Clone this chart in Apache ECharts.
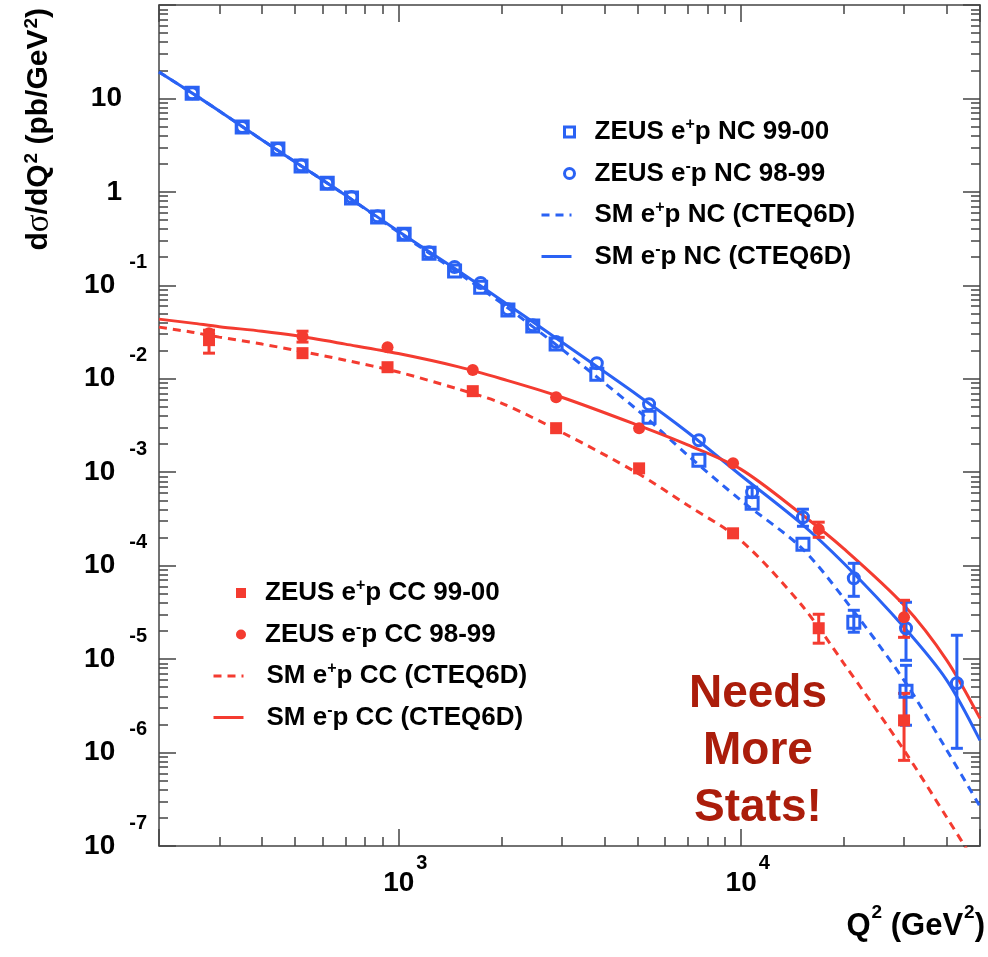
<!DOCTYPE html>
<html>
<head>
<meta charset="utf-8">
<script src="https://cdn.jsdelivr.net/npm/echarts@6/dist/echarts.min.js"></script>
<style>
  html, body { margin: 0; padding: 0; background: #fff; }
  #chart { width: 988px; height: 957px; }
</style>
</head>
<body>
<div id="chart"></div>
<script>
// ---- Neutral-current measurements (Q^2 in GeV^2, dsigma/dQ^2 in pb/GeV^2) ----
const ncQ2 = [250, 350, 445, 520, 620, 730, 870, 1040, 1230, 1460, 1740, 2090, 2470, 2890, 3800, 5400, 7550, 10800, 15200, 21400, 30400];
const ncEpPlus = [11.4, 4.94, 2.87, 1.89, 1.24, 0.858, 0.537, 0.353, 0.221, 0.142, 0.0956, 0.0543, 0.0366, 0.0235, 0.0112, 0.00388, 0.00134, 4.66e-4, 1.70e-4, 2.48e-5, 4.52e-6];
const ncQ2Minus = [250, 350, 445, 520, 620, 730, 870, 1040, 1230, 1460, 1740, 2090, 2470, 2890, 3800, 5400, 7550, 10800, 15200, 21400, 30400, 42800];
const ncEpMinus = [11.4, 4.94, 2.87, 1.93, 1.24, 0.88, 0.55, 0.353, 0.226, 0.157, 0.106, 0.0556, 0.0375, 0.0247, 0.0147, 0.00535, 0.00220, 6.11e-4, 3.30e-4, 7.33e-5, 2.14e-5, 5.51e-6];
// [Q2, low, high]
const ncEpPlusErr = [[21400, 1.94e-5, 3.33e-5], [30400, 1.96e-6, 8.58e-6]];
const ncEpMinusErr = [[10800, 5.40e-4, 6.91e-4], [15200, 2.64e-4, 4.02e-4], [21400, 4.70e-5, 1.06e-4], [30400, 9.71e-6, 4.06e-5], [42800, 1.11e-6, 1.80e-5]];

// ---- Charged-current measurements ----
const ccQ2 = [280, 525, 930, 1650, 2890, 5050, 9500, 16900, 30000];
const ccEpPlus = [0.0259, 0.0188, 0.0133, 0.00737, 0.00296, 0.00110, 2.22e-4, 2.14e-5, 2.21e-6];
const ccEpMinus = [0.0308, 0.0286, 0.0218, 0.0124, 0.00635, 0.00296, 0.00125, 2.45e-4, 2.80e-5];
const ccEpPlusErr = [[280, 0.0188, 0.0331], [16900, 1.48e-5, 3.02e-5], [30000, 8.25e-7, 4.30e-6]];
const ccEpMinusErr = [[525, 0.0247, 0.0323], [16900, 2.01e-4, 2.92e-4], [30000, 1.71e-5, 4.26e-5]];

// ---- Standard Model predictions (CTEQ6D) ----
const smQ2 = [200, 250, 300, 400, 500, 700, 1000, 1500, 2000, 3000, 5000, 7000, 10000, 15000, 20000, 30000, 40000, 50000];
const smNcMinus = [19.2, 11.4, 7.33, 3.59, 2.09, 0.924, 0.380, 0.142, 0.0694, 0.0247, 0.00667, 0.00268, 9.29e-4, 2.84e-4, 1.06e-4, 2.19e-5, 5.93e-6, 1.35e-6];
const smNcPlus = [19.2, 11.4, 7.33, 3.59, 2.09, 0.924, 0.371, 0.135, 0.0645, 0.0208, 0.00461, 0.00152, 5.02e-4, 1.57e-4, 4.48e-5, 5.93e-6, 1.06e-6, 2.65e-7];
const smCcMinus = [0.0435, 0.0394, 0.0361, 0.0323, 0.0290, 0.0235, 0.0186, 0.0134, 0.0100, 0.00635, 0.00319, 0.00196, 0.00108, 3.59e-4, 1.52e-4, 3.77e-5, 9.71e-6, 2.32e-6];
const smCcPlus = [0.0357, 0.0315, 0.0279, 0.0235, 0.0202, 0.0158, 0.0118, 0.00774, 0.00548, 0.00268, 9.76e-4, 4.43e-4, 1.87e-4, 3.86e-5, 9.02e-6, 1.06e-6, 2.02e-7, 5.48e-8];

// ---- Axis ranges and minor tick positions ----
const xRange = [200, 50000];
const yRange = [1e-7, 100];
const xMinorTicks = [300, 400, 500, 600, 700, 800, 900, 2000, 3000, 4000, 5000, 6000, 7000, 8000, 9000, 20000, 30000, 40000];
const yDecades = [-7, -6, -5, -4, -3, -2, -1, 0, 1];
const yMinorMultipliers = [2, 3, 4, 5, 6, 7, 8, 9];
const yMinorTicks = [];
yDecades.forEach(e => yMinorMultipliers.forEach(m => yMinorTicks.push(+(m * Math.pow(10, e)).toPrecision(6))));

const annotation = 'Needs\nMore\nStats!';

const BLUE = '#2a62f4';
const RED = '#f43b30';
const FRAME = '#444';
const FONT = '"Liberation Sans", Arial, Helvetica, sans-serif';

const zip = (xs, ys) => xs.map((x, i) => [x, ys[i]]);

function decadeExp(v) {
  const l = Math.log10(v);
  const e = Math.round(l);
  return Math.abs(l - e) < 1e-6 ? e : null;
}

function yLabel(v) {
  const e = decadeExp(v);
  if (e === null || e === 2) return '';
  if (e === 1) return '{p|10}';
  if (e === 0) return '{p|1}';
  return '{b|10}{e|' + e + '}';
}

function xLabel(v) {
  const e = decadeExp(v);
  if (e === 3 || e === 4) return '{b|10}{e|' + e + '}';
  return '';
}

function errorBars(data, color) {
  return {
    type: 'custom',
    data: data,
    encode: { x: 0, y: [1, 2] },
    z: 4,
    silent: true,
    renderItem: function (params, api) {
      const x = api.value(0);
      const lo = api.coord([x, api.value(1)]);
      const hi = api.coord([x, api.value(2)]);
      const w = 6;
      const st = { stroke: color, lineWidth: 3 };
      return {
        type: 'group',
        children: [
          { type: 'line', shape: { x1: lo[0], y1: lo[1], x2: hi[0], y2: hi[1] }, style: st },
          { type: 'line', shape: { x1: lo[0] - w, y1: lo[1], x2: lo[0] + w, y2: lo[1] }, style: st },
          { type: 'line', shape: { x1: hi[0] - w, y1: hi[1], x2: hi[0] + w, y2: hi[1] }, style: st }
        ]
      };
    }
  };
}

function curve(name, xs, ys, color, dashed) {
  return {
    name: name,
    type: 'line',
    data: zip(xs, ys),
    smooth: 0.3,
    symbol: 'circle',
    showSymbol: false,
    clip: true,
    z: 2,
    itemStyle: { color: color },
    lineStyle: { color: color, width: 3, type: dashed ? [8, 6] : 'solid' }
  };
}

function markers(name, xs, ys, symbol, color, filled) {
  return {
    name: name,
    type: 'scatter',
    data: zip(xs, ys),
    symbol: symbol,
    symbolSize: filled ? 12 : (symbol === 'rect' ? 12 : 11),
    z: 5,
    itemStyle: filled
      ? { color: color, opacity: 1 }
      : { color: 'rgba(255,255,255,0)', borderColor: color, borderWidth: 3, opacity: 1 }
  };
}

const legendText = {
  'ZEUS e+p NC 99-00': '{t|ZEUS e}{s|+}{t|p NC 99-00}',
  'ZEUS e-p NC 98-99': '{t|ZEUS e}{s|-}{t|p NC 98-99}',
  'SM e+p NC (CTEQ6D)': '{t|SM e}{s|+}{t|p NC (CTEQ6D)}',
  'SM e-p NC (CTEQ6D)': '{t|SM e}{s|-}{t|p NC (CTEQ6D)}',
  'ZEUS e+p CC 99-00': '{t|ZEUS e}{s|+}{t|p CC 99-00}',
  'ZEUS e-p CC 98-99': '{t|ZEUS e}{s|-}{t|p CC 98-99}',
  'SM e+p CC (CTEQ6D)': '{t|SM e}{s|+}{t|p CC (CTEQ6D)}',
  'SM e-p CC (CTEQ6D)': '{t|SM e}{s|-}{t|p CC (CTEQ6D)}'
};

const squareIcon = 'path://M0,0H10V10H0Z';

// One legend block: markers use a narrow icon box, model lines a wide one;
// textPad keeps every label starting at the same column.
function legendBlock(left, top, iconWidth, textPad, items) {
  return {
    orient: 'vertical',
    left: left,
    top: top,
    padding: 0,
    itemWidth: iconWidth,
    itemHeight: 10,
    itemGap: 11.5,
    selectedMode: false,
    data: items,
    formatter: name => legendText[name],
    lineStyle: { width: 3 },
    textStyle: {
      color: '#000',
      padding: [0, 0, 0, textPad],
      rich: {
        t: { fontFamily: FONT, fontSize: 26, fontWeight: 'bold', lineHeight: 30, color: '#000' },
        s: { fontFamily: FONT, fontSize: 16, fontWeight: 'bold', lineHeight: 16, padding: [0, 0, 14, 0], color: '#000' }
      }
    }
  };
}

const axisLineStyle = { show: true, lineStyle: { color: FRAME, width: 1.5 } };

function xAxisDef(position, minor, withLabels) {
  const ax = {
    type: 'log', logBase: 10, min: xRange[0], max: xRange[1], position: position,
    axisLine: minor ? { show: false } : axisLineStyle,
    axisTick: { show: true, inside: true, length: minor ? 9 : 17, lineStyle: { color: FRAME, width: 1.5 } },
    axisLabel: { show: false },
    splitLine: { show: false },
    minorTick: { show: false }
  };
  if (minor) ax.axisTick.customValues = xMinorTicks;
  if (withLabels) {
    ax.axisLabel = {
      show: true, margin: 14, formatter: xLabel, color: '#000',
      rich: {
        b: { fontFamily: FONT, fontSize: 28, fontWeight: 'bold', lineHeight: 28, padding: [18, 0, 0, 14], color: '#000' },
        e: { fontFamily: FONT, fontSize: 20, fontWeight: 'bold', lineHeight: 20, padding: [0, 0, 22, 2], color: '#000' }
      }
    };
    ax.name = '{a|Q}{u|2}{a| (GeV}{u|2}{a|)}';
    ax.nameLocation = 'end';
    ax.nameGap = 5;
    ax.nameTextStyle = {
      align: 'right', verticalAlign: 'top', padding: [64, 0, 0, 0],
      rich: {
        a: { fontFamily: FONT, fontSize: 31, fontWeight: 'bold', lineHeight: 32, color: '#000' },
        u: { fontFamily: FONT, fontSize: 19, fontWeight: 'bold', lineHeight: 19, padding: [0, 0, 27, 1], color: '#000' }
      }
    };
  }
  return ax;
}

function yAxisDef(position, minor, withLabels) {
  const ax = {
    type: 'log', logBase: 10, min: yRange[0], max: yRange[1], position: position,
    axisLine: minor ? { show: false } : axisLineStyle,
    axisTick: { show: true, inside: true, length: minor ? 9 : 17, lineStyle: { color: FRAME, width: 1.5 } },
    axisLabel: { show: false },
    splitLine: { show: false },
    minorTick: { show: false }
  };
  if (minor) ax.axisTick.customValues = yMinorTicks;
  if (withLabels) {
    ax.axisLabel = {
      show: true, margin: 12, formatter: yLabel, color: '#000',
      rich: {
        p: { fontFamily: FONT, fontSize: 28, fontWeight: 'bold', lineHeight: 28, padding: [0, 25, 0, 0], color: '#000' },
        b: { fontFamily: FONT, fontSize: 28, fontWeight: 'bold', lineHeight: 28, color: '#000' },
        e: { fontFamily: FONT, fontSize: 20, fontWeight: 'bold', lineHeight: 20, padding: [0, 0, 46, 14], color: '#000' }
      }
    };
    ax.name = '{a|d}{g|σ}{a|/dQ}{u|2}{a| (pb/GeV}{u|2}{a|)}';
    ax.nameLocation = 'end';
    ax.nameRotate = 90;
    ax.nameGap = -3;
    ax.nameTextStyle = {
      align: 'right', verticalAlign: 'bottom', padding: [0, 0, 104, 0],
      rich: {
        a: { fontFamily: FONT, fontSize: 30, fontWeight: 'bold', lineHeight: 32, color: '#000' },
        g: { fontFamily: '"Liberation Serif", "DejaVu Serif", serif', fontSize: 33, lineHeight: 32, color: '#000' },
        u: { fontFamily: FONT, fontSize: 19, fontWeight: 'bold', lineHeight: 19, padding: [0, 0, 14, 1], color: '#000' }
      }
    };
  }
  return ax;
}

const chart = echarts.init(document.getElementById('chart'), null, { renderer: 'canvas' });

chart.setOption({
  animation: false,
  backgroundColor: '#fff',
  textStyle: { fontFamily: FONT },
  grid: { left: 159, right: 8, top: 5, bottom: 111, containLabel: false },
  xAxis: [
    xAxisDef('bottom', false, true),
    xAxisDef('bottom', true, false),
    xAxisDef('top', false, false),
    xAxisDef('top', true, false)
  ],
  yAxis: [
    yAxisDef('left', false, true),
    yAxisDef('left', true, false),
    yAxisDef('right', false, false),
    yAxisDef('right', true, false)
  ],
  legend: [
    legendBlock(563, 117, 10, 15, [
      { name: 'ZEUS e+p NC 99-00', icon: squareIcon, itemStyle: { borderWidth: 3 } },
      { name: 'ZEUS e-p NC 98-99', icon: 'circle', itemStyle: { borderWidth: 3 } }
    ]),
    legendBlock(540, 200, 30, 18, [
      { name: 'SM e+p NC (CTEQ6D)', itemStyle: { opacity: 0 } },
      { name: 'SM e-p NC (CTEQ6D)', itemStyle: { opacity: 0 } }
    ]),
    legendBlock(236, 578, 10, 14, [
      { name: 'ZEUS e+p CC 99-00', icon: squareIcon },
      { name: 'ZEUS e-p CC 98-99', icon: 'circle' }
    ]),
    legendBlock(212, 661, 30, 18, [
      { name: 'SM e+p CC (CTEQ6D)', itemStyle: { opacity: 0 } },
      { name: 'SM e-p CC (CTEQ6D)', itemStyle: { opacity: 0 } }
    ])
  ],
  graphic: [{
    type: 'text',
    x: 758,
    y: 666,
    z: 10,
    style: {
      text: annotation,
      font: 'bold 46px ' + FONT,
      fill: '#ab1d0b',
      align: 'center',
      verticalAlign: 'top',
      lineHeight: 57
    }
  }],
  series: [
    curve('SM e-p NC (CTEQ6D)', smQ2, smNcMinus, BLUE, false),
    curve('SM e+p NC (CTEQ6D)', smQ2, smNcPlus, BLUE, true),
    curve('SM e-p CC (CTEQ6D)', smQ2, smCcMinus, RED, false),
    curve('SM e+p CC (CTEQ6D)', smQ2, smCcPlus, RED, true),
    markers('ZEUS e+p NC 99-00', ncQ2, ncEpPlus, 'rect', BLUE, false),
    markers('ZEUS e-p NC 98-99', ncQ2Minus, ncEpMinus, 'circle', BLUE, false),
    markers('ZEUS e+p CC 99-00', ccQ2, ccEpPlus, 'rect', RED, true),
    markers('ZEUS e-p CC 98-99', ccQ2, ccEpMinus, 'circle', RED, true),
    errorBars(ncEpPlusErr, BLUE),
    errorBars(ncEpMinusErr, BLUE),
    errorBars(ccEpPlusErr, RED),
    errorBars(ccEpMinusErr, RED)
  ]
});
</script>
</body>
</html>
